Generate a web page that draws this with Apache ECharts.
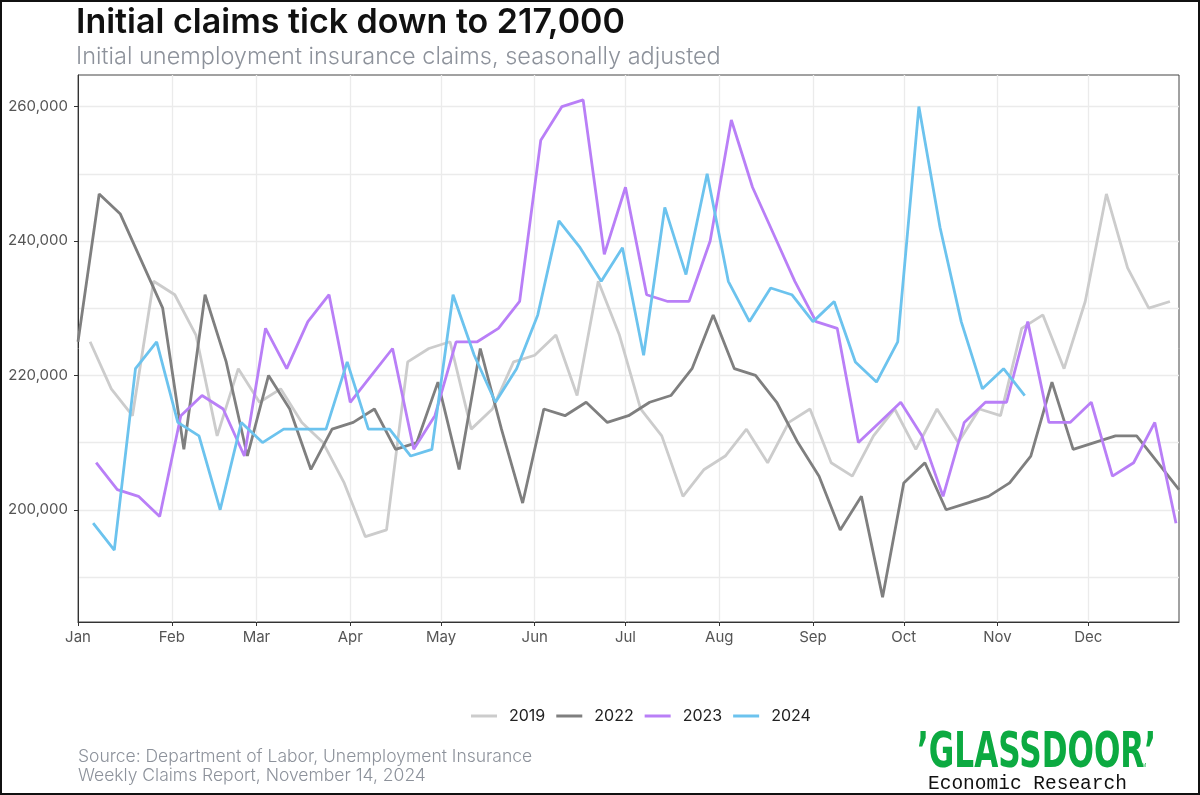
<!DOCTYPE html>
<html>
<head>
<meta charset="utf-8">
<title>Initial claims</title>
<script src="https://cdn.jsdelivr.net/npm/echarts@6/dist/echarts.min.js"></script>
<style>
html, body { margin: 0; padding: 0; background: #fff; }
#wrap { position: relative; width: 1200px; height: 795px; }
#echart { width: 1200px; height: 795px; }
#frame { position: absolute; left: 0; top: 0; width: 1200px; height: 795px; box-sizing: border-box; border: 2px solid #111; pointer-events: none; }
</style>
</head>
<body>
<div id="wrap">
  <div id="echart"></div>
  <div id="frame"></div>
</div>
<script>
var years = ['2019', '2022', '2023', '2024'];
var firstWeekEnding = ['2019-01-05', '2022-01-01', '2023-01-07', '2024-01-06'];
var lineColors = ['#cccccc', '#7f7f7f', '#b97ff7', '#6cc3ee'];

// weekly initial claims, thousands
var claims2019 = [225, 218, 214, 234, 232, 226, 211, 221, 216, 218, 213, 210, 204, 196, 197, 222, 224, 225,
    212, 215, 222, 223, 226, 217, 234, 226, 215, 211, 202, 206, 208, 212, 207, 213, 215, 207, 205, 211,
    215, 209, 215, 210, 215, 214, 227, 229, 221, 231, 247, 236, 230, 231];
var claims2022 = [225, 247, 244, 237, 230, 209, 232, 222, 208, 220, 215, 206, 212, 213, 215, 209, 210, 219,
    206, 224, 212, 201, 215, 214, 216, 213, 214, 216, 217, 221, 229, 221, 220, 216, 210, 205, 197, 202,
    187, 204, 207, 200, 201, 202, 204, 208, 219, 209, 210, 211, 211, 207, 203];
var claims2023 = [207, 203, 202, 199, 214, 217, 215, 208, 227, 221, 228, 232, 216, 220, 224, 209, 214, 225,
    225, 227, 231, 255, 260, 261, 238, 248, 232, 231, 231, 240, 258, 248, 241, 234, 228, 227, 210, 213,
    216, 211, 202, 213, 216, 216, 228, 213, 213, 216, 205, 207, 213, 198];
var claims2024 = [198, 194, 221, 225, 213, 211, 200, 213, 210, 212, 212, 212, 222, 212, 212, 208, 209, 232,
    223, 216, 221, 229, 243, 239, 234, 239, 223, 245, 235, 250, 234, 228, 233, 232, 228, 231, 222, 219,
    225, 260, 242, 228, 218, 221, 217];
var claimsByYear = [claims2019, claims2022, claims2023, claims2024];

var monthStarts = [0, 31, 59, 90, 120, 151, 181, 212, 243, 273, 304, 334];
var monthLabels = ['Jan', 'Feb', 'Mar', 'Apr', 'May', 'Jun', 'Jul', 'Aug', 'Sep', 'Oct', 'Nov', 'Dec'];
var yMajor = [200000, 220000, 240000, 260000];
var yMinor = [190000, 210000, 230000, 250000];

function dayOfYear(s) {
    var d = new Date(s + 'T00:00:00Z');
    return Math.round((d.getTime() - Date.UTC(d.getUTCFullYear(), 0, 1)) / 86400000);
}

var font = 'Inter, "Noto Sans", sans-serif';
var gridLine = { show: true, lineStyle: { color: '#ebebeb', width: 1.3 } };

var series = years.map(function (y, k) {
    var start = dayOfYear(firstWeekEnding[k]);
    return {
        name: y,
        type: 'line',
        showSymbol: false,
        symbol: 'none',
        animation: false,
        lineStyle: { width: 2.8, color: lineColors[k] },
        itemStyle: { color: lineColors[k] },
        data: claimsByYear[k].map(function (v, i) { return [start + 7 * i, v * 1000]; })
    };
});

var option = {
    animation: false,
    title: {
        text: 'Initial claims tick down to 217,000',
        subtext: 'Initial unemployment insurance claims, seasonally adjusted',
        left: 76, top: 6, padding: 0, itemGap: 5,
        textStyle: { fontFamily: font, fontSize: 34, fontWeight: 600, color: '#111' },
        subtextStyle: { fontFamily: font, fontSize: 23.5, fontWeight: 300, color: '#8d929b' }
    },
    legend: {
        data: years,
        left: 466, top: 703,
        icon: 'rect', itemWidth: 26, itemHeight: 3, itemGap: 11,
        textStyle: { fontFamily: font, fontSize: 16, color: '#222', padding: [0, 0, 0, 7] }
    },
    grid: { left: 78, right: 21, top: 75, bottom: 173, show: true, borderColor: '#444', borderWidth: 1 },
    xAxis: {
        type: 'value', min: 0, max: 364,
        axisLine: { show: true, lineStyle: { color: '#333', width: 1 } },
        axisTick: { show: true, length: 4, customValues: monthStarts, lineStyle: { color: '#333' } },
        axisLabel: {
            customValues: monthStarts, margin: 8, color: '#555', fontFamily: font, fontSize: 15,
            formatter: function (v) { return monthLabels[monthStarts.indexOf(v)]; }
        },
        splitLine: gridLine
    },
    yAxis: [{
        type: 'value', min: 183300, max: 264700,
        axisLine: { show: true, lineStyle: { color: '#333', width: 1 } },
        axisTick: { show: true, length: 4, customValues: yMajor, lineStyle: { color: '#333' } },
        axisLabel: {
            customValues: yMajor, margin: 10, color: '#555', fontFamily: font, fontSize: 15,
            formatter: function (v) { return v.toLocaleString('en-US'); }
        },
        splitLine: gridLine
    }, {
        type: 'value', min: 183300, max: 264700, position: 'left',
        axisLine: { show: false },
        axisTick: { show: false, customValues: yMinor },
        axisLabel: { show: false, customValues: yMinor },
        splitLine: gridLine
    }],
    graphic: [{
        type: 'text', left: 78, top: 747,
        style: {
            text: 'Source: Department of Labor, Unemployment Insurance\nWeekly Claims Report, November 14, 2024',
            font: '300 17.5px ' + font, fill: '#8d929b', lineHeight: 19
        }
    }, {
        type: 'text', x: 917, y: 729, scaleX: 0.648, scaleY: 1.04,
        style: {
            text: '\u2019GLASSDOOR\u2019', font: 'bold 48px "DejaVu Sans", sans-serif',
            fill: '#0caa41', verticalAlign: 'top'
        }
    }, {
        type: 'text', x: 1139, y: 763,
        style: { text: 'TM', font: '5px sans-serif', fill: '#0caa41' }
    }, {
        type: 'text', x: 928, y: 774,
        style: { text: 'Economic Research', font: '19.5px "Liberation Mono", "DejaVu Sans Mono", monospace', fill: '#111', verticalAlign: 'top' }
    }],
    series: series
};

echarts.init(document.getElementById('echart')).setOption(option);
</script>
</body>
</html>
